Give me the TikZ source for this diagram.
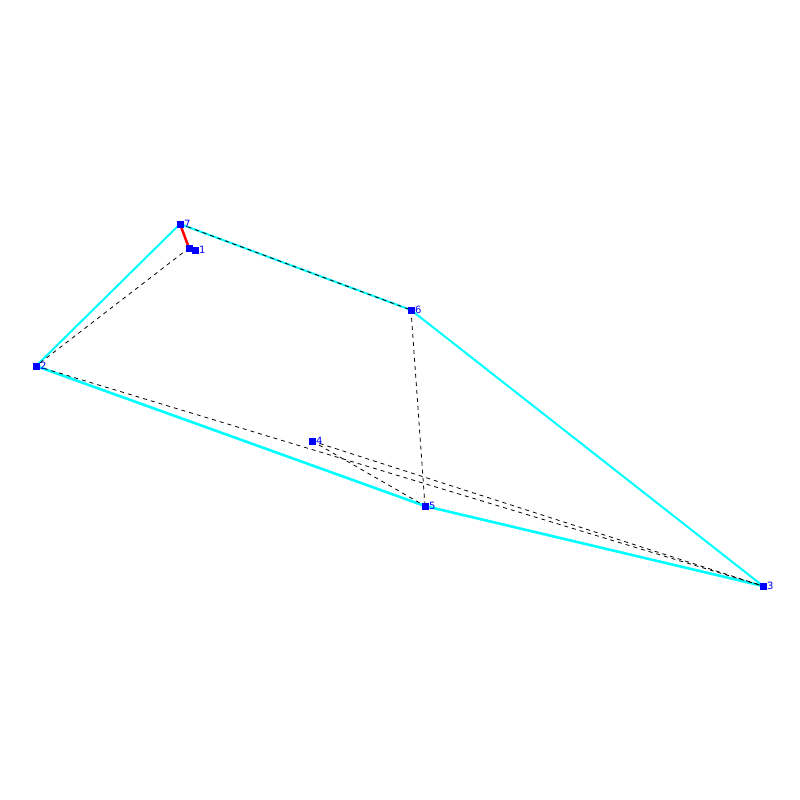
\documentclass[tikz,border=0pt]{standalone}
\usepackage{fontspec}
\setmainfont{DejaVu Sans}
\definecolor{aqua}{RGB}{0,255,255}
\definecolor{pblue}{RGB}{0,0,255}
\definecolor{pred}{RGB}{255,0,0}
\begin{document}
\begin{tikzpicture}[x=1pt,y=-1pt,
  pt/.style={fill=pblue,minimum size=7pt,inner sep=0pt,outer sep=0pt,draw=none},
  lab/.style={text=pblue,font=\fontsize{10}{10}\selectfont,inner sep=1pt,anchor=west},
  edge/.style={draw=aqua,line width=2pt},
  edgeb/.style={draw=aqua,line width=2.6pt},
  dsh/.style={draw=black,line width=0.8pt,dash pattern=on 4pt off 4pt}]
\useasboundingbox (0,0) rectangle (800,800);
\coordinate (p7) at (180,224);
\coordinate (p1) at (189,248);
\coordinate (p1b) at (195,250);
\coordinate (p6) at (411,310);
\coordinate (p2) at (36,366);
\coordinate (p4) at (312,441);
\coordinate (p5) at (425,506);
\coordinate (p3) at (763,586);
% cyan hull
\draw[edge] (p7) -- (p2);
\draw[edgeb] (p2) -- (p5);
\draw[edgeb] (p5) -- (p3);
\draw[edge] (p3) -- (p6);
\draw[edge] (p6) -- (p7);
% dashed
\draw[dsh] (p7) -- (p6);
\draw[dsh] (p1) -- (p2);
\draw[dsh] (p2) -- (p3);
\draw[dsh] (p4) -- (p3);
\draw[dsh] (p4) -- (p5);
\draw[dsh] (p6) -- (p5);
% red
\draw[pred,line width=2.5pt] (p7) -- (p1);
% points
\node[pt] (n7) at (p7) {};
\node[pt] (n1) at (p1) {};
\node[pt] (n1b) at (p1b) {};
\node[pt] (n6) at (p6) {};
\node[pt] (n2) at (p2) {};
\node[pt] (n4) at (p4) {};
\node[pt] (n5) at (p5) {};
\node[pt] (n3) at (p3) {};
\node[lab] (l7) at (183,224) {7};
\node[lab] (l1) at (198,250) {1};
\node[lab] (l6) at (414,310) {6};
\node[lab] (l2) at (39,366) {2};
\node[lab] (l4) at (315,441) {4};
\node[lab] (l5) at (428,506) {5};
\node[lab] (l3) at (766,586) {3};
\end{tikzpicture}
\end{document}
